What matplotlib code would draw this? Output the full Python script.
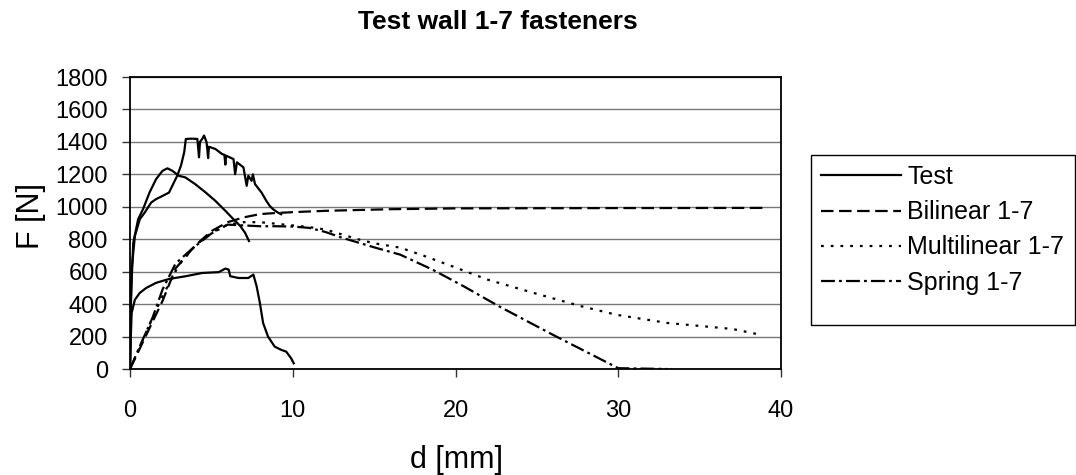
import numpy as np
import matplotlib
matplotlib.use("Agg")
import matplotlib.pyplot as plt
from matplotlib.patches import Rectangle

plt.rcParams['font.family'] = ['Liberation Sans', 'DejaVu Sans']
plt.rcParams['lines.scale_dashes'] = False

# Test curves (three specimens)
test_a_d = [0, 0.05, 0.1, 0.3, 0.6, 0.9, 1.3, 1.6, 2.0, 2.4, 2.7, 2.9, 3.13, 3.33, 3.43,
            3.8, 4.14, 4.24, 4.3, 4.45, 4.55, 4.7, 4.75, 4.8, 4.85, 5.25, 5.66, 5.8,
            5.86, 5.9, 6.36, 6.46, 6.57, 6.97, 7.17, 7.27, 7.47, 7.55, 7.68, 8.08,
            8.38, 8.59, 8.79, 9.09, 9.29]
test_a_f = [0, 350, 613, 820, 923, 964, 1026, 1047, 1067, 1088, 1150, 1191, 1253, 1336, 1418,
            1420, 1418, 1305, 1400, 1420, 1439, 1400, 1356, 1300, 1370, 1356, 1325, 1320,
            1260, 1315, 1294, 1201, 1274, 1243, 1129, 1191, 1160, 1200, 1140, 1088,
            1036, 1005, 985, 964, 954]

test_b_d = [0, 0.05, 0.2, 0.5, 0.8, 1.2, 1.6, 2.0, 2.3, 2.6, 3.0, 3.4, 4.0, 4.65, 5.25,
            5.86, 6.36, 6.77, 7.07, 7.31]
test_b_f = [0, 420, 778, 923, 985, 1088, 1170, 1222, 1237, 1222, 1191, 1181, 1140, 1088, 1036,
            975, 923, 882, 840, 789]

test_c_d = [0, 0.05, 0.1, 0.3, 0.6, 1.0, 1.6, 2.4, 3.43, 4.44, 5.45, 5.86, 6.06, 6.16,
            6.67, 7.27, 7.58, 7.78, 7.98, 8.18, 8.48, 8.89, 9.29, 9.6, 9.9, 10.06]
test_c_f = [0, 200, 345, 427, 469, 500, 531, 555, 572, 592, 597, 619, 613, 572,
            561, 561, 582, 510, 407, 283, 200, 138, 118, 107, 66, 35]

# Model curves
bilinear_d = [0, 1, 2, 2.8, 4, 5, 6, 7, 8, 9, 9.7, 10, 12, 16, 20, 30, 39]
bilinear_f = [0, 210, 420, 620, 760, 850, 905, 935, 955, 962, 965, 967, 975, 985, 990, 992, 993]

multilinear_d = [0, 0.5, 1, 2, 3, 4, 5, 6, 7, 8, 9, 10, 11, 12, 13, 14, 15, 16.6, 18,
                 19.8, 22, 24.8, 27.6, 29.9, 33, 37, 38.8]
multilinear_f = [0, 110, 230, 450, 640, 760, 840, 890, 905, 905, 895, 885, 875, 860, 830,
                 800, 775, 748, 700, 633, 550, 469, 390, 334, 284, 247, 210]

spring_d = [0, 0.6, 1.4, 2, 2.8, 3.8, 5, 6, 7, 8, 9, 10, 11, 12, 13, 14, 15, 16.6, 18.6,
            20.5, 22.7, 26, 30, 33]
spring_f = [0, 140, 320, 490, 650, 740, 835, 890, 885, 880, 880, 878, 870, 845, 810,
            780, 750, 705, 612, 510, 385, 210, 5, 0]

W, H = 1076, 475
fig = plt.figure(figsize=(W / 100, H / 100), dpi=100)
ax = fig.add_axes([130 / W, 1 - 369 / H, (781 - 130) / W, (369 - 77) / H])

lw = 1.6
ax.plot(test_a_d, test_a_f, color='black', lw=lw, label='Test')
ax.plot(test_b_d, test_b_f, color='black', lw=lw)
ax.plot(test_c_d, test_c_f, color='black', lw=lw)
ax.plot(bilinear_d, bilinear_f, color='black', lw=lw, linestyle=(0, (9, 4)), label='Bilinear 1-7')
ax.plot(multilinear_d, multilinear_f, color='black', lw=lw, linestyle=(0, (2, 5)),
        label='Multilinear 1-7')
ax.plot(spring_d, spring_f, color='black', lw=lw, linestyle=(0, (10, 3, 2, 3)),
        label='Spring 1-7')

ax.set_xlim(0, 40)
ax.set_ylim(0, 1800)
ax.set_xticks(np.arange(0, 41, 10))
ax.set_yticks(np.arange(0, 1801, 200))
ax.yaxis.grid(True, color='#777777', lw=1.0)
ax.set_axisbelow(True)
for s in ax.spines.values():
    s.set_color('black')
    s.set_linewidth(1.3)
ax.tick_params(axis='both', direction='out', length=6, width=1, labelsize=17, color='#333333')
ax.tick_params(axis='y', pad=10)
ax.tick_params(axis='x', pad=16)

fig.text(498 / W, 1 - 22 / H, 'Test wall 1-7 fasteners', fontsize=19, fontweight='bold',
         ha='center', va='center')
fig.text(456 / W, 1 - 460 / H, 'd [mm]', fontsize=22, ha='center', va='center')
fig.text(31 / W, 1 - 216 / H, 'F [N]', fontsize=22, ha='center', va='center', rotation=90)

# legend box drawn separately so its size matches the original
fig.patches.append(Rectangle((811 / W, 1 - 325 / H), (1075 - 811) / W, (325 - 155) / H,
                             transform=fig.transFigure, fill=False, edgecolor='black',
                             lw=1.0))
fig.legend(loc='upper left', bbox_to_anchor=(811 / W, 1 - 155 / H), borderaxespad=0,
           fontsize=18, handlelength=3.2, handletextpad=0.25, labelspacing=0.45,
           borderpad=0.4, frameon=False)

fig.savefig('out.png', dpi=100)
